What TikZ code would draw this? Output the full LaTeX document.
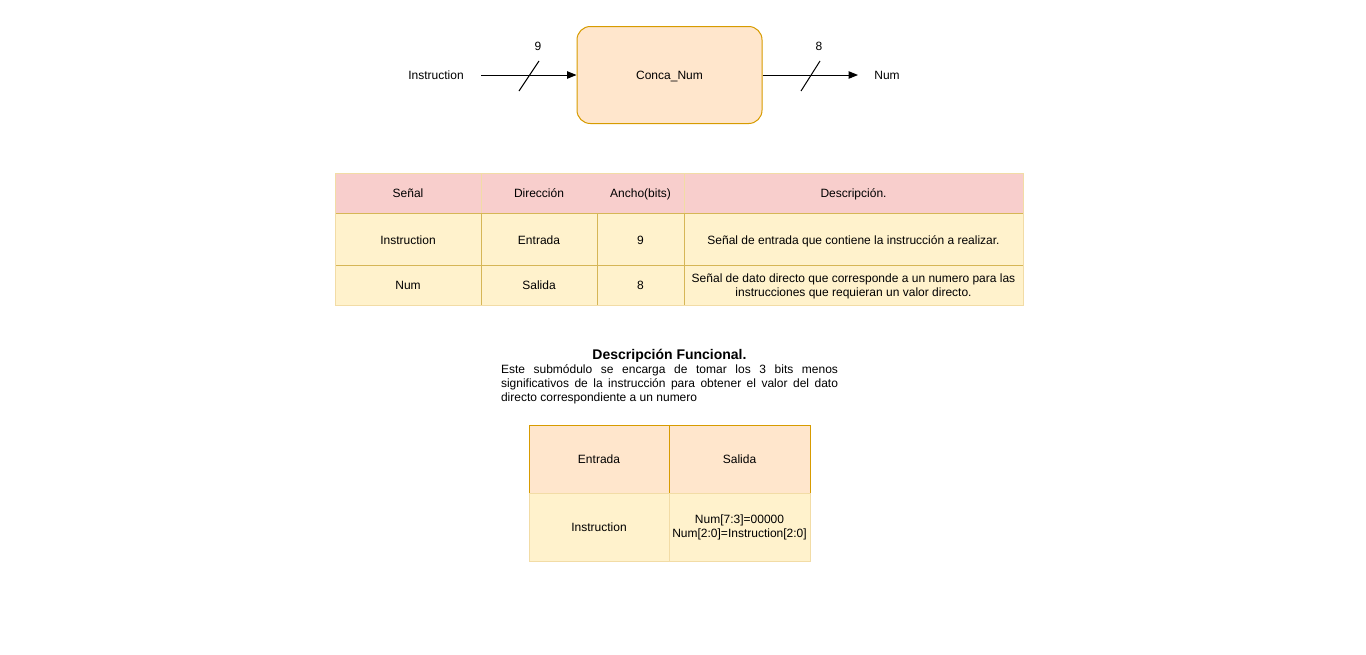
\documentclass[tikz,border=0pt]{standalone}
\usepackage{fontspec}
\setmainfont{Liberation Sans}
\usetikzlibrary{arrows.meta}
\definecolor{orfill}{HTML}{FFE6CC}
\definecolor{ordraw}{HTML}{D79B00}
\definecolor{yefill}{HTML}{FFF2CC}
\definecolor{yedraw}{HTML}{D6B656}
\definecolor{pkfill}{HTML}{F8CECC}
\definecolor{pale}{HTML}{F2DCA6}

\begin{document}
\begin{tikzpicture}[x=0.75pt, y=-0.75pt,
    font=\fontsize{9}{10.5}\selectfont,
    lbl/.style = {inner sep=1pt, text height=6.6pt, text depth=0pt},
    mlbl/.style = {inner sep=1pt, align=center},
    block/.style = {draw=ordraw, fill=orfill, rounded corners=10pt,
                line width=0.75pt,
                minimum width=138.75pt, minimum height=72.75pt},
    bus/.style = {-{Triangle[length=7pt,width=5.5pt]}, line width=0.75pt},
    body/.style = {fill=yefill, draw=yedraw, line width=0.75pt},
    headcell/.style = {fill=pkfill, draw=pale, line width=0.75pt}
                    ]
        \useasboundingbox (0,0) rectangle (1366,654);
        % block with its buses
        \node[block] (conca) at (669.5,75) {};
        \node[lbl] (cname) at (669.5,75.5) {Conca\_Num};
        \node[lbl] (inlbl) at (436,75.5) {Instruction};
        \node[lbl] (outlbl) at (887,75.5) {Num};
        \coordinate (inS) at (481,75);
        \coordinate (outE) at (858,75);
        \draw[bus] (inS) -- (conca.west);
        \draw[bus] (conca.east) -- (outE);
        \draw[line width=0.75pt] (519,91) -- (539,61);
        \draw[line width=0.75pt] (801,91) -- (820,61);
        \node[lbl] (w9) at (538,46.5) {9};
        \node[lbl] (w8) at (819,46.5) {8};
        % signal table
        \fill[pkfill] (335,173) rectangle (1023,213);
        \draw[pale, line width=0.75pt] (481,173) -- (481,213);
        \draw[pale, line width=0.75pt] (684,173) -- (684,213);
        \foreach \ya/\yb in {213/265, 265/305}
            \foreach \xa/\xb in {335/481, 481/597, 597/684, 684/1023}
                \draw[body] (\xa,\ya) rectangle (\xb,\yb);
        \draw[pale, line width=0.75pt] (335,173) rectangle (1023,305);
        \foreach \x/\t/\n in {408/Señal/hs, 539/Dirección/hd, 640.5/Ancho(bits)/ha, 853.5/Descripción./hx}
            \node[lbl] (\n) at (\x,193.5) {\t};
        \foreach \x/\t/\n in {408/Instruction/is, 539/Entrada/id, 640.5/9/ia}
            \node[lbl] (\n) at (\x,240) {\t};
        \foreach \x/\t/\n in {408/Num/ns, 539/Salida/nd, 640.5/8/na}
            \node[lbl] (\n) at (\x,285.5) {\t};
        \node[lbl] (ix) at (853.5,240) {Señal de entrada que contiene la instrucción a realizar.};
        \node[mlbl] (nx) at (853.5,286) {Señal de dato directo que corresponde a un numero para las\\instrucciones que requieran un valor directo.};
        % functional description
        \node[inner sep=1pt, font=\fontsize{10.5}{12}\selectfont\bfseries] (title) at (669.5,355.5) {Descripción Funcional.};
        \node[inner sep=0pt, text width=252.75pt, align=justify, anchor=north] (para) at (669.5,364.5)
            {Este submódulo se encarga de tomar los 3 bits menos\linebreak
             significativos de la instrucción para obtener el valor del dato\linebreak
             directo correspondiente a un numero};
        % truth table
        \draw[fill=orfill, draw=ordraw, line width=0.75pt] (529,425) rectangle (669,493);
        \draw[fill=orfill, draw=ordraw, line width=0.75pt] (669,425) rectangle (810,493);
        \draw[fill=yefill, draw=pale, line width=0.75pt] (529,493) rectangle (669,561);
        \draw[fill=yefill, draw=pale, line width=0.75pt] (669,493) rectangle (810,561);
        \node[lbl] (te) at (599,459.5) {Entrada};
        \node[lbl] (ts) at (739.5,459.5) {Salida};
        \node[lbl] (be) at (599,527.5) {Instruction};
        \node[mlbl] (bs) at (739.5,527.5) {Num[7:3]=00000\\Num[2:0]=Instruction[2:0]};
    \end{tikzpicture}
\end{document}
